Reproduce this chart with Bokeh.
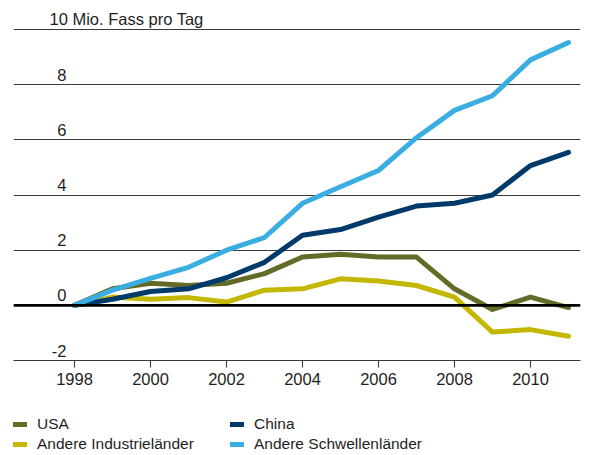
from bokeh.plotting import figure
from bokeh.layouts import column
from bokeh.models import (Range1d, FixedTicker, Span, Legend, LegendItem,
                          ColumnDataSource)
from bokeh.core.properties import value
from bokeh.embed import file_html
from bokeh.resources import INLINE

# Zuwachs der Ölnachfrage gegenüber 1998, Mio. Fass pro Tag
years = [1998, 1999, 2000, 2001, 2002, 2003, 2004, 2005, 2006, 2007, 2008, 2009, 2010, 2011]
usa = [0, 0.6, 0.8, 0.72, 0.8, 1.15, 1.75, 1.85, 1.75, 1.75, 0.6, -0.15, 0.3, -0.08]
china = [0, 0.22, 0.5, 0.6, 1.0, 1.56, 2.54, 2.75, 3.2, 3.6, 3.7, 4.0, 5.07, 5.55]
andere_ind = [0, 0.3, 0.22, 0.28, 0.12, 0.55, 0.6, 0.96, 0.88, 0.72, 0.3, -0.97, -0.88, -1.12]
andere_schw = [0, 0.55, 0.98, 1.38, 2.0, 2.46, 3.7, 4.3, 4.89, 6.08, 7.07, 7.6, 8.9, 9.53]

y_ticks = [-2, 0, 2, 4, 6, 8]
y_tick_labels = ["-2", "0", "2", "4", "6", "8"]
x_ticks = [1998, 2000, 2002, 2004, 2006, 2008, 2010]
unit_label = "10 Mio. Fass pro Tag"

FONT = "Liberation Sans"
GRID = "#3a3a3a"
TEXT = "#1e1e1e"

series = [
    ("Andere Industrieländer", andere_ind, "#c4b700"),
    ("USA", usa, "#646b26"),
    ("China", china, "#003a6b"),
    ("Andere Schwellenländer", andere_schw, "#3aaee3"),
]
colors = {name: color for name, _, color in series}

# ---- chart ----
p = figure(width=592, height=395, output_backend="svg", toolbar_location=None,
           x_range=Range1d(1996.395, 2011.316), y_range=Range1d(-2, 10.8),
           min_border_left=13, min_border_right=12, min_border_top=7,
           min_border_bottom=35)
p.outline_line_color = None
p.background_fill_color = "white"
p.border_fill_color = "white"

# horizontal grid only
p.xgrid.visible = False
p.ygrid.ticker = FixedTicker(ticks=y_ticks + [10])
p.ygrid.grid_line_color = GRID
p.ygrid.grid_line_width = 1.1
p.yaxis.visible = False

xa = p.xaxis[0]
xa.ticker = FixedTicker(ticks=x_ticks)
xa.axis_line_color = GRID
xa.axis_line_width = 1.1
xa.major_tick_line_color = GRID
xa.major_tick_line_width = 1.1
xa.major_tick_in = 0
xa.major_tick_out = 7
xa.minor_tick_line_color = None
xa.major_label_standoff = 5
xa.major_label_text_font = FONT
xa.major_label_text_font_size = "16.5px"
xa.major_label_text_color = TEXT

# y tick labels sit on top of their grid lines
lab_src = ColumnDataSource(dict(x=[years[0]] * len(y_ticks), y=y_ticks, t=y_tick_labels))
p.text(x="x", y="y", text="t", source=lab_src, x_offset=-8, y_offset=-10,
       text_align="right", text_baseline="alphabetic",
       text_font=value(FONT), text_font_size="16.5px", text_color=TEXT)
p.text(x=[years[0]], y=[10], text=[unit_label], x_offset=-25, y_offset=-11,
       text_align="left", text_baseline="alphabetic",
       text_font=value(FONT), text_font_size="16.5px", text_color=TEXT)

p.add_layout(Span(location=0, dimension="width", line_color="black", line_width=2.6))

for name, vals, color in series:
    p.line(years, vals, line_color=color, line_width=5,
           line_join="round", line_cap="round")

# ---- legend strip below the chart ----
leg = figure(width=592, height=60, output_backend="svg", toolbar_location=None,
             x_axis_type=None, y_axis_type=None,
             x_range=Range1d(0, 1), y_range=Range1d(0, 1), min_border=0)
leg.outline_line_color = None
leg.grid.visible = False
leg.border_fill_color = "white"

# key renderers: a single point outside the visible range, used only for the legend keys
keys = {name: leg.line(x=[5], y=[5], line_color=colors[name], line_width=5,
                       line_cap="round")
        for name in colors}


def legend_row(names, loc):
    return Legend(items=[LegendItem(label=n, renderers=[keys[n]]) for n in names],
                  location=loc, orientation="horizontal",
                  padding=0, margin=0, spacing=0, glyph_width=14, glyph_height=20,
                  label_height=20, label_width=193, label_standoff=10,
                  border_line_color=None, background_fill_alpha=0,
                  label_text_font=FONT, label_text_font_size="15.5px",
                  label_text_color=TEXT)


leg.add_layout(legend_row(["USA", "China"], (0, 21)))
leg.add_layout(legend_row(["Andere Industrieländer", "Andere Schwellenländer"], (0, 1)))

layout = column(p, leg, spacing=0)
open("out.html", "w").write(file_html(layout, INLINE))
